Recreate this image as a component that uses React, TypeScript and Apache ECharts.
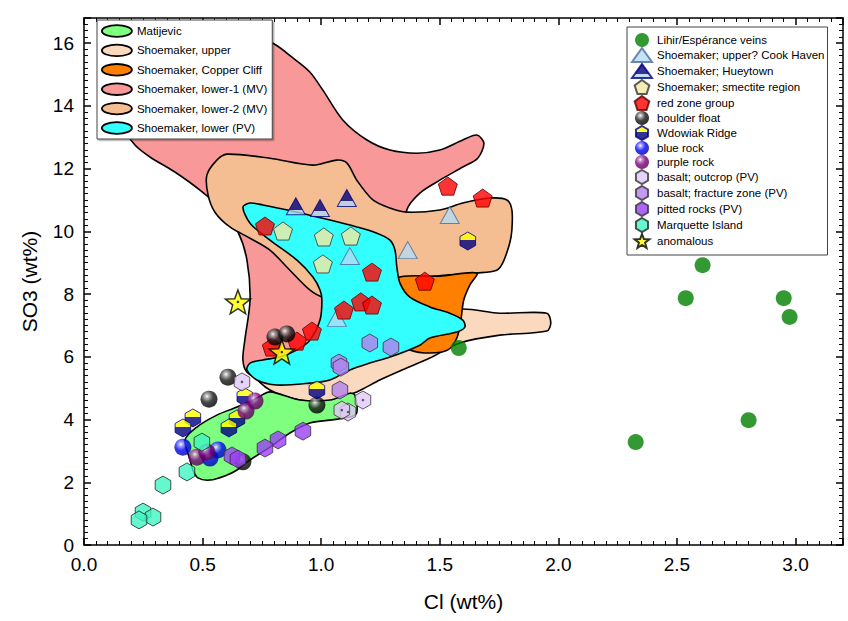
import React, { useEffect, useRef } from "react";
import * as echarts from "echarts";

const FONT = '"Liberation Sans", Arial, Helvetica, sans-serif';

// ---- Axis ranges / ticks ----
const xRange = [0, 3.2];
const yRange = [0, 16.8];
const xInterval = 0.5;
const yInterval = 2;

// ---- Field polygons (Cl wt%, SO3 wt%) ----
const polyLower1 = [
  [0.131, 16.1], [0.742, 16.16], [0.809, 15.94], [0.877, 15.55], [0.952, 15.08], [1.007, 14.5],
  [1.091, 13.55], [1.193, 12.91], [1.29, 12.59], [1.403, 12.49], [1.5, 12.59], [1.597, 12.91],
  [1.656, 13.07], [1.686, 12.81], [1.66, 12.33], [1.597, 12.05], [1.5, 11.63], [1.416, 11.22],
  [1.361, 10.68], [1.332, 9.08], [1.311, 7.17], [1.311, 6.06], [1.205, 5.74], [0.91, 5.42],
  [0.742, 5.32], [0.687, 5.51], [0.67, 5.9], [0.678, 6.53], [0.7, 7.81], [0.687, 9.08],
  [0.649, 9.98], [0.582, 10.68], [0.489, 11.31], [0.383, 11.89], [0.278, 12.37], [0.215, 12.75],
  [0.16, 13.39], [0.118, 14.5],
];
const polyLower2 = [
  [0.518, 11.79], [0.56, 12.27], [0.603, 12.46], [0.784, 12.33], [0.965, 12.11], [1.066, 12.27],
  [1.108, 12.18], [1.15, 11.63], [1.218, 11.0], [1.29, 10.74], [1.361, 10.61], [1.5, 10.68],
  [1.597, 10.9], [1.711, 11.06], [1.783, 11.0], [1.804, 10.68], [1.804, 10.04], [1.795, 9.63],
  [1.766, 9.0], [1.74, 8.76], [1.656, 8.67], [1.542, 8.61], [1.403, 8.51], [1.332, 8.45],
  [1.247, 8.06], [1.121, 7.81], [1.007, 7.9], [0.952, 8.13], [0.868, 8.76], [0.784, 9.4],
  [0.7, 9.78], [0.615, 10.14], [0.552, 10.61], [0.523, 11.16],
];
const polyUpper = [
  [0.721, 5.42], [0.784, 4.94], [0.91, 4.62], [1.037, 4.59], [1.15, 4.88], [1.247, 5.26],
  [1.332, 5.55], [1.458, 5.96], [1.585, 6.44], [1.753, 6.69], [1.951, 6.82], [1.968, 7.08],
  [1.951, 7.39], [1.753, 7.39], [1.585, 7.52], [1.416, 7.17], [1.247, 6.53], [0.995, 5.9],
  [0.784, 5.71],
];
const polyCopperCliff = [
  [1.319, 8.51], [1.5, 8.57], [1.656, 8.67], [1.627, 8.29], [1.601, 7.81], [1.589, 7.17],
  [1.572, 6.6], [1.534, 6.22], [1.458, 6.12], [1.374, 6.22], [1.311, 6.53], [1.298, 7.81],
];
const polyLowerPV = [
  [0.67, 10.77], [0.7, 10.9], [0.754, 10.84], [0.898, 10.61], [1.037, 10.36], [1.15, 10.14],
  [1.235, 9.94], [1.29, 9.72], [1.311, 9.4], [1.319, 8.86], [1.332, 8.35], [1.374, 7.9],
  [1.458, 7.59], [1.542, 7.39], [1.597, 7.17], [1.606, 6.95], [1.572, 6.79], [1.458, 6.6],
  [1.416, 6.37], [1.29, 5.99], [1.205, 5.8], [1.121, 5.58], [1.037, 5.26], [0.952, 5.16],
  [0.813, 5.1], [0.729, 5.26], [0.687, 5.58], [0.7, 5.8], [0.754, 5.9], [0.826, 5.99],
  [0.898, 6.22], [0.952, 6.53], [0.995, 7.17], [1.003, 7.81], [0.995, 8.13], [0.965, 8.54],
  [0.898, 9.08], [0.784, 9.72], [0.7, 10.26],
];
const polyMatijevic = [
  [0.426, 3.35], [0.476, 3.76], [0.56, 4.14], [0.645, 4.4], [0.729, 4.69], [0.784, 4.88],
  [0.91, 4.62], [1.037, 4.62], [1.121, 4.84], [1.142, 4.78], [1.15, 4.21], [1.121, 4.08],
  [1.037, 3.98], [0.952, 3.89], [0.868, 3.57], [0.784, 3.12], [0.7, 2.71], [0.645, 2.39],
  [0.603, 2.23], [0.531, 2.07], [0.48, 2.14], [0.459, 2.39], [0.447, 2.71],
];

// ---- Point groups ----
const lihir = [[2.608, 8.92], [2.537, 7.87], [2.95, 7.87], [2.975, 7.27], [2.802, 3.98], [2.326, 3.28], [1.58, 6.28]];
const cookHaven = [[1.121, 9.21], [1.365, 9.4], [1.542, 10.52], [1.066, 7.24]];
const hueytown = [[0.893, 10.8], [0.995, 10.74], [1.108, 11.06]];
const smectite = [[0.839, 10.01], [1.011, 9.82], [1.125, 9.85], [1.007, 8.96]];
const redZone = [
  [0.763, 10.17], [1.534, 11.44], [1.681, 11.06], [1.214, 8.7], [1.437, 8.41], [1.096, 7.49],
  [1.167, 7.75], [1.214, 7.65], [0.961, 6.82], [0.898, 6.5], [0.792, 6.31],
];
const boulder = [[0.805, 6.63], [0.855, 6.73], [0.607, 5.35], [0.527, 4.65], [0.982, 4.46], [0.67, 2.65]];
const wdowiak = [[0.982, 4.94], [0.678, 4.72], [0.459, 4.05], [0.417, 3.73], [0.645, 4.02], [0.611, 3.73], [1.618, 9.69]];
const blueRock = [[0.417, 3.12], [0.531, 2.77], [0.565, 3.03]];
const purpleRock = [[0.721, 4.59], [0.683, 4.27], [0.476, 2.8], [0.518, 2.96]];
const basaltOutcrop = [[0.666, 5.2], [1.176, 4.62], [1.113, 4.24], [1.087, 4.3]];
const basaltFracture = [[1.205, 6.44], [1.294, 6.31], [1.075, 5.8], [1.083, 5.67], [1.079, 4.94]];
const pitted = [[0.923, 3.63], [0.818, 3.35], [0.763, 3.09], [0.624, 2.84], [0.649, 2.74]];
const marquette = [[0.497, 3.28], [0.434, 2.33], [0.333, 1.91], [0.249, 1.05], [0.291, 0.89], [0.232, 0.8]];
const anomalous = [[0.649, 7.75], [0.834, 6.15]];

const polyNames = [
  "Matijevic",
  "Shoemaker, upper",
  "Shoemaker, Copper Cliff",
  "Shoemaker, lower-1 (MV)",
  "Shoemaker, lower-2 (MV)",
  "Shoemaker, lower (PV)",
];
const polyColors = ["#7fff7f", "#fbd9be", "#ff8000", "#f89898", "#f5be92", "#33ffff"];

const pointNames = [
  "Lihir/Espérance veins",
  "Shoemaker; upper? Cook Haven",
  "Shoemaker; Hueytown",
  "Shoemaker; smectite region",
  "red zone group",
  "boulder float",
  "Wdowiak Ridge",
  "blue rock",
  "purple rock",
  "basalt; outcrop (PV)",
  "basalt; fracture zone (PV)",
  "pitted rocks (PV)",
  "Marquette Island",
  "anomalous",
];

const PENTAGON = "path://M10,0 L19.51,6.91 L15.88,18.09 L4.12,18.09 L0.49,6.91 Z";
const HEXAGON = "path://M8.66,0 L17.32,5 L17.32,15 L8.66,20 L0,15 L0,5 Z";
const STAR =
  "path://M10,0 L12.469,6.602 L19.511,6.91 L13.995,11.298 L15.878,18.09 L10,14.2 L4.122,18.09 L6.005,11.298 L0.489,6.91 L7.531,6.602 Z";
const ELLIPSE =
  "path://M0,6 C0,2.7 7,0 15.5,0 C24,0 31,2.7 31,6 C31,9.3 24,12 15.5,12 C7,12 0,9.3 0,6 Z";

function sphere(light: string, base: string, dark: string) {
  return new echarts.graphic.RadialGradient(0.38, 0.33, 0.62, [
    { offset: 0, color: "#ffffff" },
    { offset: 0.2, color: light },
    { offset: 0.58, color: base },
    { offset: 1, color: dark },
  ]);
}

function split(top: string, bottom: string, at: number) {
  return new echarts.graphic.LinearGradient(0, 0, 0, 1, [
    { offset: 0, color: top },
    { offset: at, color: top },
    { offset: at, color: bottom },
    { offset: 1, color: bottom },
  ]);
}

function polySeries(name: string, pts: number[][], color: string) {
  return {
    type: "custom",
    name,
    data: pts,
    encode: { x: 0, y: 1 },
    silent: true,
    z: 1,
    renderItem: (params: any, api: any) => {
      if (params.dataIndex !== 0) return null;
      const points = pts.map((p) => api.coord(p));
      return {
        type: "polygon",
        shape: { points, smooth: 0.3 },
        style: { fill: color, stroke: "#000", lineWidth: 1.6 },
      };
    },
  };
}

function scatter(name: string, data: number[][], symbol: string, size: any, itemStyle: any, z = 3) {
  return {
    type: "scatter",
    name,
    data,
    symbol,
    symbolSize: size,
    symbolKeepAspect: true,
    itemStyle,
    z,
    silent: true,
  };
}

export default function App() {
  const ref = useRef<HTMLDivElement>(null);
  useEffect(() => {
    if (!ref.current) return;
    const chart = echarts.init(ref.current, null, { renderer: "svg" });

    const axisLine = { show: true, onZero: false, lineStyle: { color: "#000", width: 1.5 } };
    const axisTick = { show: true, inside: true, length: 7, lineStyle: { color: "#000", width: 1.5 } };
    const minorTick = { show: true, splitNumber: 10, length: 4, lineStyle: { color: "#000", width: 1 } };
    const fmtX = (v: number) => (Math.abs(v * 2 - Math.round(v * 2)) < 1e-6 ? v.toFixed(1) : "");
    const fmtY = (v: number) => (Math.abs(v / 2 - Math.round(v / 2)) < 1e-6 ? String(Math.round(v)) : "");

    const option: any = {
      animation: false,
      backgroundColor: "#fff",
      grid: { left: 84, right: 5, top: 18, bottom: 76, containLabel: false },
      xAxis: [
        {
          type: "value",
          min: xRange[0],
          max: xRange[1],
          interval: xInterval,
          position: "bottom",
          axisLine,
          axisTick,
          minorTick,
          splitLine: { show: false },
          axisLabel: { fontSize: 19, color: "#000", fontFamily: FONT, margin: 10, formatter: fmtX },
          name: "Cl (wt%)",
          nameLocation: "middle",
          nameGap: 46,
          nameTextStyle: { fontSize: 21, color: "#000", fontFamily: FONT },
        },
        {
          type: "value",
          min: xRange[0],
          max: xRange[1],
          interval: xInterval,
          position: "top",
          axisLine,
          axisTick,
          minorTick,
          splitLine: { show: false },
          axisLabel: { show: false },
        },
      ],
      yAxis: [
        {
          type: "value",
          min: yRange[0],
          max: yRange[1],
          interval: yInterval,
          position: "left",
          axisLine,
          axisTick,
          minorTick,
          splitLine: { show: false },
          axisLabel: { fontSize: 19, color: "#000", fontFamily: FONT, margin: 10, formatter: fmtY },
          name: "SO3 (wt%)",
          nameLocation: "middle",
          nameGap: 44,
          nameTextStyle: { fontSize: 21, color: "#000", fontFamily: FONT },
        },
        {
          type: "value",
          min: yRange[0],
          max: yRange[1],
          interval: yInterval,
          position: "right",
          axisLine,
          axisTick,
          minorTick,
          splitLine: { show: false },
          axisLabel: { show: false },
        },
      ],
      legend: [
        {
          orient: "vertical",
          left: 97,
          top: 20,
          padding: [4, 5, 4, 4],
          itemWidth: 30,
          itemHeight: 12,
          itemGap: 5.4,
          selectedMode: false,
          backgroundColor: "#fff",
          borderColor: "#444",
          borderWidth: 1,
          shadowColor: "rgba(0,0,0,0.3)",
          shadowOffsetX: 1.5,
          shadowOffsetY: 1.5,
          shadowBlur: 1,
          textStyle: { fontSize: 11.5, lineHeight: 14, color: "#000", fontFamily: FONT },
          data: polyNames.map((n, i) => ({
            name: n,
            icon: ELLIPSE,
            itemStyle: { color: polyColors[i], borderColor: "#000", borderWidth: 1.8 },
          })),
        },
        {
          orient: "vertical",
          left: 627,
          top: 27,
          padding: [6, 3, 6, 4],
          itemWidth: 20,
          itemHeight: 14,
          itemGap: 0,
          selectedMode: false,
          backgroundColor: "#fff",
          borderColor: "#444",
          borderWidth: 1,
          textStyle: { fontSize: 11.5, lineHeight: 14, color: "#000", fontFamily: FONT },
          data: pointNames,
        },
      ],
      series: [
        polySeries(polyNames[3], polyLower1, polyColors[3]),
        polySeries(polyNames[4], polyLower2, polyColors[4]),
        polySeries(polyNames[1], polyUpper, polyColors[1]),
        polySeries(polyNames[2], polyCopperCliff, polyColors[2]),
        polySeries(polyNames[5], polyLowerPV, polyColors[5]),
        polySeries(polyNames[0], polyMatijevic, polyColors[0]),
        scatter(pointNames[0], lihir, "circle", 16, { color: "#008000" }),
        scatter(pointNames[1], cookHaven, "triangle", [19, 17], { color: "#b4dcf5", borderColor: "#4a6a9a", borderWidth: 1 }),
        scatter(pointNames[2], hueytown, "triangle", [19, 17], {
          color: split("#00007f", "#add8f0", 0.7),
          borderColor: "#00007f",
          borderWidth: 1,
        }),
        scatter(pointNames[3], smectite, PENTAGON, 19, { color: "#f3e8a0", borderColor: "#333", borderWidth: 1 }),
        scatter(pointNames[4], redZone, PENTAGON, 19, { color: "#ff0000", borderColor: "#5a0000", borderWidth: 1 }),
        scatter(pointNames[5], boulder, "circle", 17, { color: sphere("#a0a0a0", "#1a1a1a", "#000000") }),
        scatter(pointNames[6], wdowiak, HEXAGON, 18, {
          color: split("#ffff00", "#00007f", 0.45),
          borderColor: "#00007f",
          borderWidth: 1,
        }),
        scatter(pointNames[7], blueRock, "circle", 17, { color: sphere("#9090ff", "#0000ff", "#0000b0") }),
        scatter(pointNames[8], purpleRock, "circle", 17, { color: sphere("#c080c0", "#800080", "#560056") }),
        scatter(pointNames[9], basaltOutcrop, HEXAGON, 18, { color: "#e0c8f8", borderColor: "#333", borderWidth: 1 }),
        scatter(pointNames[10], basaltFracture, HEXAGON, 18, { color: "#b47fef", borderColor: "#333", borderWidth: 1 }),
        scatter(pointNames[11], pitted, HEXAGON, 18, { color: "#9a40f5", borderColor: "#333", borderWidth: 1 }),
        scatter(pointNames[12], marquette, HEXAGON, 18, { color: "#3ef5c0", borderColor: "#222", borderWidth: 1 }),
        scatter(pointNames[13], anomalous, STAR, 25, { color: "#ffff00", borderColor: "#000", borderWidth: 1.5 }),
        scatter("outcrop-dot", basaltOutcrop, "circle", 2.5, { color: "#333" }, 4),
        scatter("star-dot", anomalous, "circle", 2.5, { color: "#000" }, 4),
      ],
    };
    chart.setOption(option);
    return () => chart.dispose();
  }, []);
  return (
    <div
      ref={ref}
      style={{ position: "absolute", left: 0, top: 0, width: 848, height: 621 }}
    />
  );
}
